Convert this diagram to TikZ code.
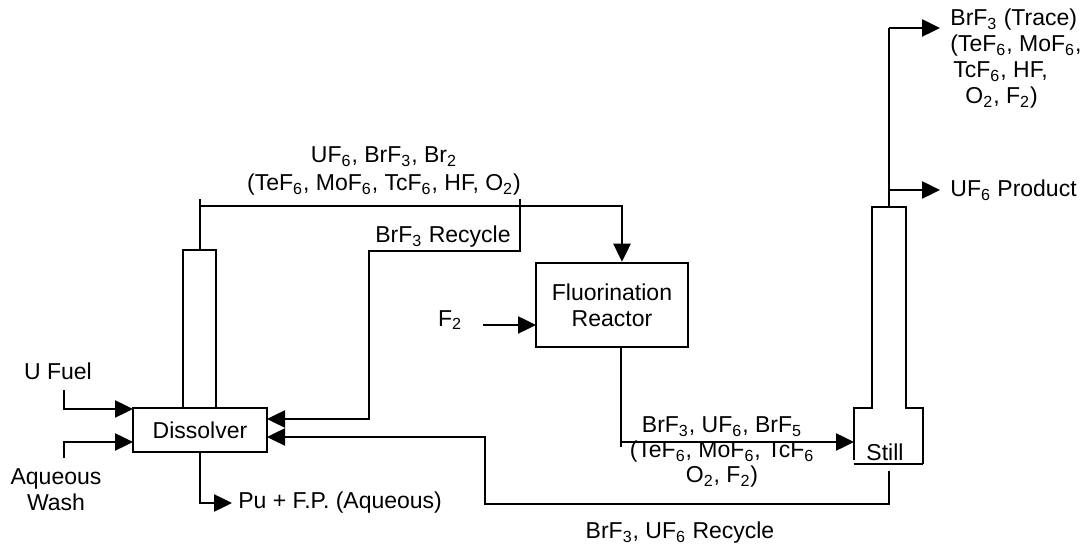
\documentclass[tikz,border=0pt]{standalone}
\usepackage{fontspec}
\setmainfont{Liberation Sans}
\usetikzlibrary{arrows.meta,calc}
\newcommand\ssb[1]{\textsubscript{#1}}
\tikzset{
  ln/.style={line width=1.25pt},
  arr/.style={ln,-{Triangle[length=9pt,width=8.5pt]}},
  lbl/.style={font=\fontsize{11.5}{13}\selectfont, inner sep=0pt},
  unit/.style={draw, line width=1.25pt, font=\fontsize{11.5}{13}\selectfont, align=center, inner sep=0pt}
}
\begin{document}
\begin{tikzpicture}[x=0.5pt,y=-0.5pt]
\useasboundingbox (0,0) rectangle (1081,544);

% units
\node[unit, minimum width=67pt, minimum height=22pt] (diss) at (200,430) {Dissolver};
\node[unit, minimum width=76pt, minimum height=42pt] (fr) at (612,305) {Fluorination\\Reactor};
% dissolver chimney
\draw[ln] (183,408) -- (183,250) -- (216,250) -- (216,408);
% still
\draw[ln] (854,460) -- (854,408) -- (872,408) -- (872,207) -- (906,207) -- (906,408) -- (923,408) -- (923,464);
\draw[ln] (854,464) -- (923,464);
\node[lbl] (still) at (885,452) {Still};

% coordinates
\coordinate (chimTop) at (200,250);
\coordinate (chimTick) at (200,199);
\coordinate (topL) at (200,206);
\coordinate (topR) at (622,206);
\coordinate (recTick) at (520,199);
\coordinate (recA) at (520,251);
\coordinate (recB) at (369,251);
\coordinate (recC) at (369,419);
\coordinate (dissIn1) at (267,419);
\coordinate (dissIn2) at (267,437);
\coordinate (stillBot) at (889,471);
\coordinate (rc2A) at (889,504);
\coordinate (rc2B) at (485,504);
\coordinate (rc2C) at (485,437);
\coordinate (frOut) at (621,347);
\coordinate (frTick) at (621,447);
\coordinate (frC) at (621,442);
\coordinate (stillIn) at (854,442);
\coordinate (f2s) at (483,325);
\coordinate (f2e) at (536,325);
\coordinate (ufA) at (64,390);
\coordinate (ufB) at (64,409);
\coordinate (ufE) at (133,409);
\coordinate (awA) at (64,458);
\coordinate (awB) at (64,442);
\coordinate (awE) at (133,442);
\coordinate (puA) at (200,503);
\coordinate (puE) at (232,503);
\coordinate (stTop) at (889,207);
\coordinate (stTr) at (889,28);
\coordinate (stTrE) at (940,28);
\coordinate (stPr) at (889,190);
\coordinate (stPrE) at (940,190);

% connectors
\draw[ln] (chimTop) -- (chimTick);
\draw[arr] (topL) -- (topR) -- (topR |- fr.north);
\draw[arr] (recTick) -- (recA) -- (recB) -- (recC) -- (dissIn1);
\draw[arr] (stillBot) -- (rc2A) -- (rc2B) -- (rc2C) -- (dissIn2);
\draw[ln] (frOut) -- (frTick);
\draw[arr] (frC) -- (stillIn);
\draw[arr] (f2s) -- (f2e);
\draw[arr] (ufA) -- (ufB) -- (ufE);
\draw[arr] (awA) -- (awB) -- (awE);
\draw[arr] (diss.south) -- (puA) -- (puE);
\draw[ln] (stTop) -- (stTr);
\draw[arr] (stTr) -- (stTrE);
\draw[arr] (stPr) -- (stPrE);

% labels
\node[lbl, align=center, font=\fontsize{11.5}{14}\selectfont] (lTop) at (384,171)
  {UF\ssb{6}, BrF\ssb{3}, Br\ssb{2}\\(TeF\ssb{6}, MoF\ssb{6}, TcF\ssb{6}, HF, O\ssb{2})};
\node[lbl, anchor=west] (lRec) at (375,237) {BrF\ssb{3} Recycle};
\node[lbl] (lU) at (58,371) {U Fuel};
\node[lbl, align=center] (lAq) at (56,490) {Aqueous\\Wash};
\node[lbl] (lF2) at (450,320) {F\ssb{2}};
\node[lbl, anchor=west] (lPu) at (238,503) {Pu + F.P. (Aqueous)};
\node[lbl, align=center, font=\fontsize{11.5}{12.5}\selectfont] (lMid) at (722,452)
  {BrF\ssb{3}, UF\ssb{6}, BrF\ssb{5}\\(TeF\ssb{6}, MoF\ssb{6}, TcF\ssb{6}\\O\ssb{2}, F\ssb{2})};
\node[lbl] (lRec2) at (680,533) {BrF\ssb{3}, UF\ssb{6} Recycle};
\node[lbl, anchor=west, align=left] (lTr) at (950,59)
  {BrF\ssb{3} (Trace)\\(TeF\ssb{6}, MoF\ssb{6},\\\hspace{1.5pt}TcF\ssb{6}, HF,\\\hspace{7.5pt}O\ssb{2}, F\ssb{2})};
\node[lbl, anchor=west] (lPr) at (950,190) {UF\ssb{6} Product};
\end{tikzpicture}
\end{document}
